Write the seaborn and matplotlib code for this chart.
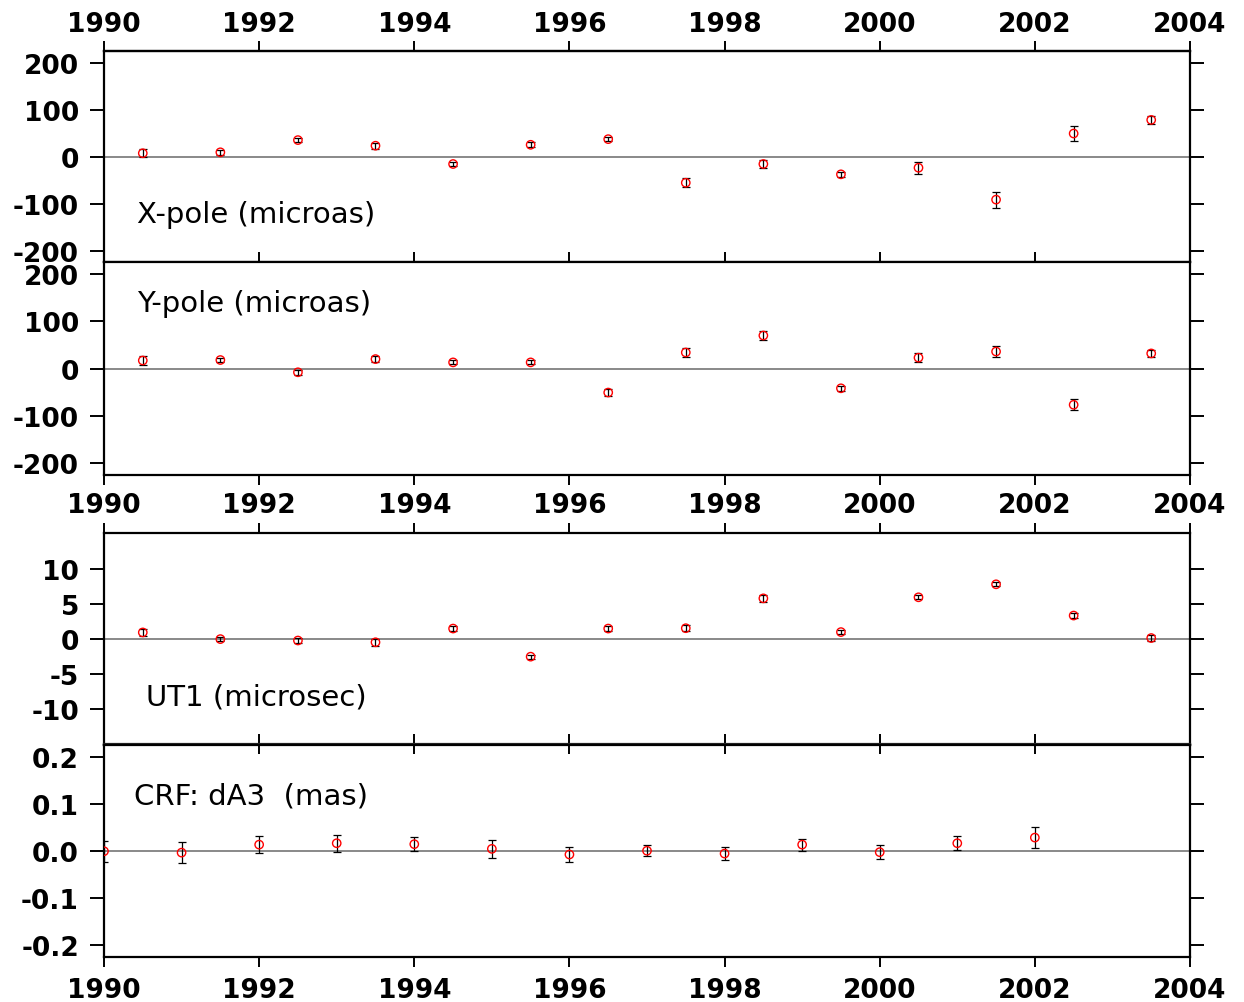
import numpy as np
import pandas as pd
import matplotlib
matplotlib.use("Agg")
import matplotlib.pyplot as plt
import seaborn as sns

# ---------------- data ----------------
epochs_half = [1990.5, 1991.5, 1992.5, 1993.5, 1994.5, 1995.5, 1996.5,
               1997.5, 1998.5, 1999.5, 2000.5, 2001.5, 2002.5, 2003.5]

xpole = [8, 10, 36, 24, -15, 26, 38, -55, -15, -37, -23, -91, 50, 79]
xpole_err = [8, 5, 5, 6, 4, 5, 5, 10, 8, 5, 13, 17, 16, 9]

ypole = [17, 18, -8, 20, 13, 13, -51, 34, 70, -42, 23, 36, -77, 32]
ypole_err = [9, 5, 5, 7, 4, 4, 8, 9, 9, 5, 10, 12, 12, 8]

ut1 = [0.95, 0.0, -0.2, -0.45, 1.5, -2.5, 1.5, 1.55, 5.8, 1.0, 5.95, 7.8, 3.35, 0.15]
ut1_err = [0.5, 0.3, 0.3, 0.5, 0.3, 0.3, 0.3, 0.4, 0.5, 0.3, 0.3, 0.3, 0.4, 0.4]

epochs_int = [1990, 1991, 1992, 1993, 1994, 1995, 1996, 1997, 1998, 1999,
              2000, 2001, 2002]
crf = [-0.001, -0.004, 0.013, 0.016, 0.014, 0.004, -0.008, 0.0, -0.006,
       0.013, -0.003, 0.016, 0.028]
crf_err = [0.022, 0.022, 0.018, 0.018, 0.015, 0.019, 0.015, 0.012, 0.014,
           0.013, 0.0145, 0.015, 0.022]

year_ticks = [1990, 1992, 1994, 1996, 1998, 2000, 2002, 2004]
pole_ticks = [-200, -100, 0, 100, 200]
ut1_ticks = [-10, -5, 0, 5, 10]
crf_ticks = [-0.2, -0.1, 0.0, 0.1, 0.2]
crf_ticklabels = ["-0.2", "-0.1", "0.0", "0.1", "0.2"]

labels = ["X-pole (microas)", "Y-pole (microas)", "UT1 (microsec)", "CRF: dA3  (mas)"]

# ---------------- style ----------------
sns.set_style("white")
plt.rcParams["font.family"] = ["DejaVu Sans"]
plt.rcParams["axes.unicode_minus"] = False
plt.rcParams["text.color"] = "black"
plt.rcParams["xtick.color"] = "black"
plt.rcParams["ytick.color"] = "black"

TICK_FS = 19
LABEL_FS = 21
LW = 1.6

fig = plt.figure(figsize=(12.44, 10.03), dpi=100)

L, W = 104 / 1244, (1190 - 104) / 1244
H = 1003


def add_ax(top_px, bot_px):
    return fig.add_axes([L, 1 - bot_px / H, W, (bot_px - top_px) / H])


ax1 = add_ax(52, 263)
ax2 = add_ax(263, 476)
ax3 = add_ax(534, 745.5)
ax4 = add_ax(745.5, 958)

panels = [
    (ax1, epochs_half, xpole, xpole_err, (-224, 226), pole_ticks, None),
    (ax2, epochs_half, ypole, ypole_err, (-226, 226), pole_ticks, None),
    (ax3, epochs_half, ut1, ut1_err, (-15.0, 15.1), ut1_ticks, None),
    (ax4, epochs_int, crf, crf_err, (-0.226, 0.226), crf_ticks, crf_ticklabels),
]

for ax, xs, ys, es, ylim, yt, ytl in panels:
    ax.axhline(0, color="#808080", lw=1.3, zorder=1)
    ax.errorbar(xs, ys, yerr=es, fmt="none", ecolor="black", elinewidth=0.9,
                capsize=3.2, capthick=0.9, zorder=2)
    df = pd.DataFrame({"epoch": xs, "value": ys})
    sns.scatterplot(data=df, x="epoch", y="value", ax=ax, marker="o", s=36,
                    facecolors="none", edgecolors="red", linewidth=1.0,
                    zorder=3)
    ax.set_xlim(1990, 2004)
    ax.set_ylim(*ylim)
    ax.set_xticks(year_ticks)
    ax.set_yticks(yt)
    if ytl is not None:
        ax.set_yticklabels(ytl)
    ax.set_xlabel("")
    ax.set_ylabel("")
    for sp in ax.spines.values():
        sp.set_visible(True)
        sp.set_color("black")
        sp.set_linewidth(LW)
    ax.tick_params(axis="y", which="both", left=True, right=True,
                   labelleft=True, labelright=False, direction="out",
                   length=10, width=1.4, pad=8, labelsize=TICK_FS)
    for t in ax.get_yticklabels():
        t.set_fontweight("bold")


def bold_x(axis_obj):
    for t in axis_obj.get_xticklabels():
        t.set_fontweight("bold")


# panel 1: bottom ticks crossing, top ticks outward with labels
ax1.tick_params(axis="x", top=False, bottom=True, labeltop=False, labelbottom=False,
                direction="inout", length=15, width=1.4)
sec1 = ax1.secondary_xaxis("top")
sec1.set_xticks(year_ticks)
sec1.tick_params(axis="x", direction="out", length=7.5, width=1.4,
                 labelsize=TICK_FS, pad=2.5)
sec1.spines["top"].set_linewidth(LW)
bold_x(sec1)

# panel 2: bottom ticks outward with labels
ax2.tick_params(axis="x", top=False, bottom=True, labeltop=False, labelbottom=True,
                direction="out", length=7.5, width=1.4, labelsize=TICK_FS, pad=4.5)
bold_x(ax2)

# panel 3: top ticks outward, no labels
ax3.tick_params(axis="x", top=True, bottom=False, labeltop=False, labelbottom=False,
                direction="out", length=7.5, width=1.4)

# panel 4: bottom ticks outward with labels, top ticks crossing
ax4.tick_params(axis="x", top=False, bottom=True, labeltop=False, labelbottom=True,
                direction="out", length=7.5, width=1.4, labelsize=TICK_FS, pad=7)
bold_x(ax4)
sec4 = ax4.secondary_xaxis("top")
sec4.set_xticks(year_ticks)
sec4.tick_params(axis="x", direction="inout", length=15, width=1.4,
                 labeltop=False)
sec4.spines["top"].set_linewidth(LW)

# panel labels
ax1.text(1990.425, -121, labels[0], fontsize=LABEL_FS, va="center", ha="left")
ax2.text(1990.425, 138, labels[1], fontsize=LABEL_FS, va="center", ha="left")
ax3.text(1990.54, -8.1, labels[2], fontsize=LABEL_FS, va="center", ha="left")
ax4.text(1990.39, 0.117, labels[3], fontsize=LABEL_FS, va="center", ha="left")

fig.savefig("out.png", dpi=100, facecolor="white")
